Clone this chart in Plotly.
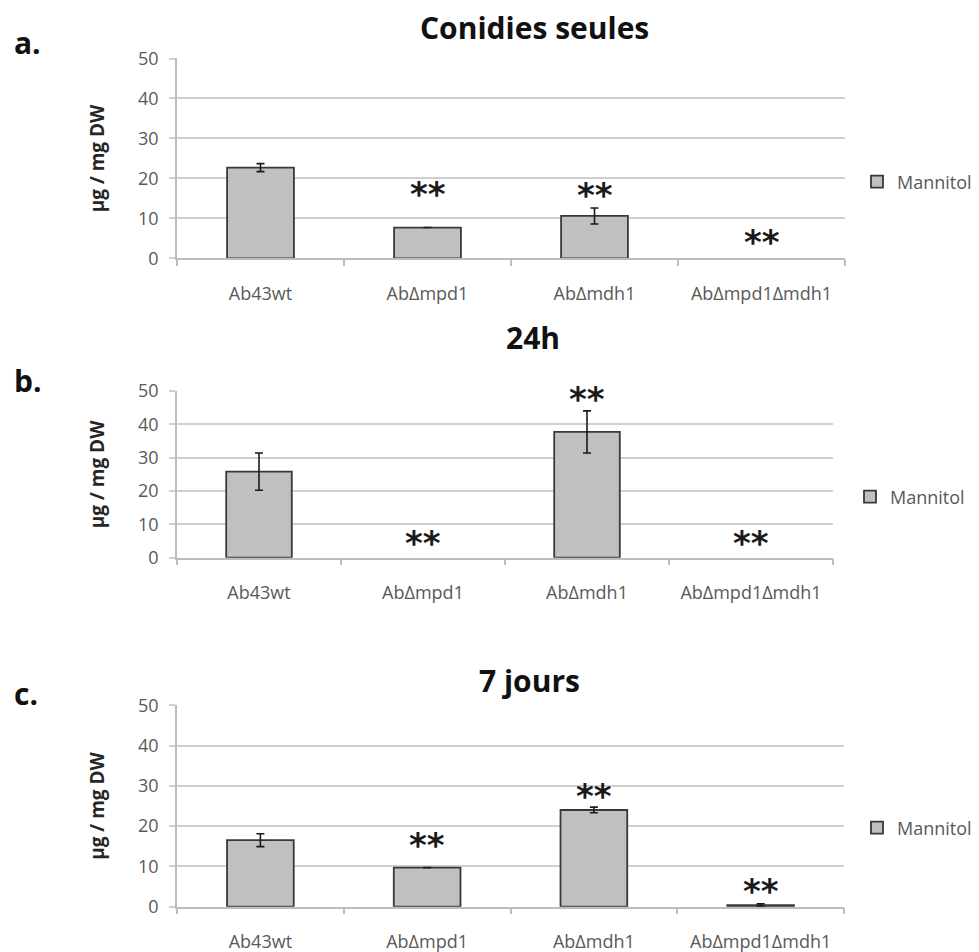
import plotly.graph_objects as go

categories = ["Ab43wt", "AbΔmpd1", "AbΔmdh1", "AbΔmpd1Δmdh1"]

conidies_vals = [22.7, 7.7, 10.6, 0]
conidies_err = [1.0, 0, 2.0, 0]
conidies_stars = [None, 16.6, 16.3, 4.6]

h24_vals = [25.8, 0, 37.7, 0]
h24_err = [5.6, 0, 6.3, 0]
h24_stars = [None, 5.0, 48.2, 5.0]

j7_vals = [16.5, 9.7, 24.0, 0.4]
j7_err = [1.6, 0, 0.7, 0.3]
j7_stars = [None, 15.7, 27.9, 4.3]

panel_titles = ["Conidies seules", "24h", "7 jours"]
panel_letters = ["a.", "b.", "c."]
series_name = "Mannitol"
y_title = "µg / mg DW"
y_ticks = [0, 10, 20, 30, 40, 50]

W, H = 979, 952
PAGE_OFF = 8  # page body margin offset of the figure


def px_x(p):
    return (p - PAGE_OFF) / W


def px_y(p):
    return 1 - (p - PAGE_OFF) / H


# plot areas in target pixels: (left, right, top, bottom)
areas = [(177, 845, 58.3, 258.3), (177, 833, 390.7, 557.7), (177, 844, 705, 906.7)]
legend_pos = [(857, 182), (850, 497), (857, 828)]
title_pos = [(534, 27), (533, 337), (529, 680)]
letter_pos = [43, 381, 693]

panels = [
    (conidies_vals, conidies_err, conidies_stars),
    (h24_vals, h24_err, h24_stars),
    (j7_vals, j7_err, j7_stars),
]

TICK_FONT = dict(family="Open Sans", size=18, color="#595959")
GRID = "#d0d0d0"
AXIS = "#bdbdbd"

fig = go.Figure()
layout = dict(
    width=W, height=H, margin=dict(l=0, r=0, t=0, b=0, autoexpand=False),
    paper_bgcolor="white", plot_bgcolor="white",
    bargap=0.6, annotations=[],
)

for i, (vals, errs, stars) in enumerate(panels):
    n = "" if i == 0 else str(i + 1)
    xa, ya = "x" + n, "y" + n
    leg = "legend" + n
    l, r, t, b = areas[i]
    fig.add_trace(go.Bar(
        x=categories,
        y=[v if v > 0 else None for v in vals],
        name=series_name,
        xaxis=xa, yaxis=ya, legend=leg,
        marker=dict(color="#c0c0c0", line=dict(color="#383838", width=1.8)),
        error_y=dict(type="data", array=[e if e > 0 else None for e in errs], visible=True,
                     color="#1a1a1a", thickness=1.6, width=4),
        showlegend=True,
    ))
    layout["xaxis" + n] = dict(
        domain=[px_x(l), px_x(r)], anchor=ya, type="category",
        showline=True, linecolor=AXIS, linewidth=1.5,
        ticks="outside", tickson="boundaries", ticklen=6, tickcolor=AXIS, tickwidth=1.5,
        ticklabelstandoff=18, tickfont=TICK_FONT, showgrid=False,
        range=[-0.5, 3.5], fixedrange=True,
    )
    layout["yaxis" + n] = dict(
        domain=[px_y(b), px_y(t)], anchor=xa, range=[0, 50.05],
        tickvals=y_ticks, ticks="outside", ticklen=6, tickcolor=GRID, tickwidth=1.5,
        showgrid=True, gridcolor=GRID, gridwidth=1.5,
        showline=True, linecolor=AXIS, linewidth=1.5, zeroline=False,
        ticklabelstandoff=7, tickfont=TICK_FONT,
    )
    lx, ly = legend_pos[i]
    layout[leg] = dict(
        x=px_x(lx), y=px_y(ly), xanchor="left", yanchor="middle",
        font=dict(family="Open Sans", size=18, color="#595959"),
        bgcolor="rgba(0,0,0,0)",
    )
    # significance stars
    for c, s in zip(categories, stars):
        if s is None:
            continue
        layout["annotations"].append(dict(
            x=c, y=s, xref=xa, yref=ya, text="**", showarrow=False,
            font=dict(family="DejaVu Sans", size=34, color="#1a1a1a", weight="bold"),
            yanchor="middle", xanchor="center", yshift=-2,
        ))
    # panel title
    tx, ty = title_pos[i]
    layout["annotations"].append(dict(
        x=px_x(tx), y=px_y(ty), xref="paper", yref="paper", text="<b>%s</b>" % panel_titles[i],
        showarrow=False, xanchor="center", yanchor="middle",
        font=dict(family="Open Sans", size=30, color="#111111"),
    ))
    # panel letter
    layout["annotations"].append(dict(
        x=px_x(12), y=px_y(letter_pos[i]), xref="paper", yref="paper", text="<b>%s</b>" % panel_letters[i],
        showarrow=False, xanchor="left", yanchor="middle",
        font=dict(family="Open Sans", size=30, color="#111111"),
    ))
    # y axis title
    layout["annotations"].append(dict(
        x=px_x(97), y=px_y((t + b) / 2), xref="paper", yref="paper", text="<b>%s</b>" % y_title,
        showarrow=False, xanchor="center", yanchor="middle", textangle=-90,
        font=dict(family="Open Sans", size=19, color="#262626"),
    ))

fig.update_layout(**layout)
fig.write_html("out.html")
